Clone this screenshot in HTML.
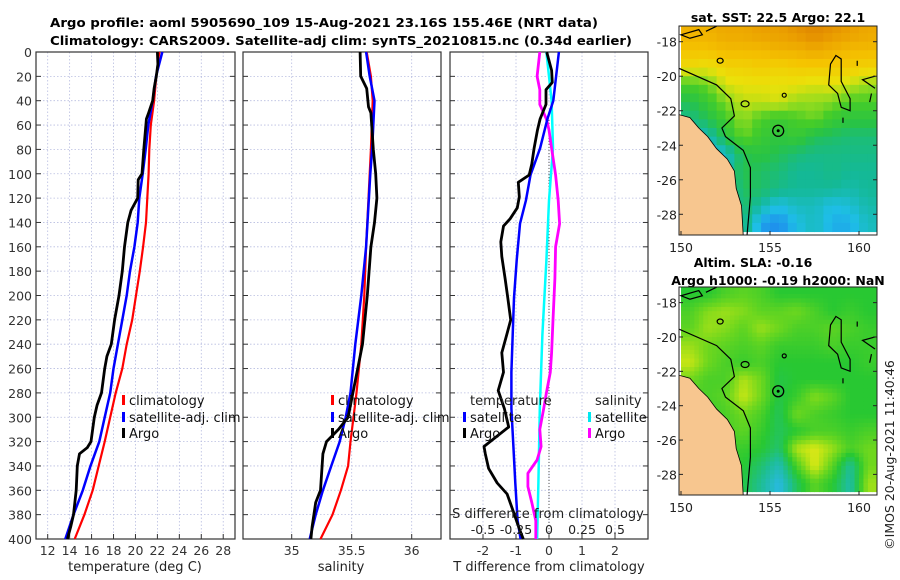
<!DOCTYPE html>
<html><head><meta charset="utf-8"><style>
html,body{margin:0;padding:0;background:#fff;}
svg{display:block;font-family:"DejaVu Sans","Liberation Sans",sans-serif;}
</style></head><body>
<svg id="fig" width="900" height="580" viewBox="0 0 900 580" xmlns="http://www.w3.org/2000/svg">
<text x="50" y="27" font-size="12.5" font-weight="bold" textLength="548" lengthAdjust="spacingAndGlyphs">Argo profile: aoml 5905690_109 15-Aug-2021 23.16S 155.46E (NRT data)</text>
<text x="50" y="45" font-size="12.5" font-weight="bold" textLength="582" lengthAdjust="spacingAndGlyphs">Climatology: CARS2009. Satellite-adj clim: synTS_20210815.nc (0.34d earlier)</text>
<text x="778" y="22" font-size="12.5" font-weight="bold" text-anchor="middle">sat. SST: 22.5 Argo: 22.1</text>
<text x="753" y="267" font-size="12.5" font-weight="bold" text-anchor="middle">Altim. SLA: -0.16</text>
<text x="778" y="285" font-size="12.5" font-weight="bold" text-anchor="middle">Argo h1000: -0.19 h2000: NaN</text>
<text transform="translate(894,455) rotate(-90)" font-size="12.5" text-anchor="middle" fill="#222">©IMOS 20-Aug-2021 11:40:46</text>
<g id="layer"></g>
</svg>
<script>
// ---------- data ----------
const depthTicks = [0,20,40,60,80,100,120,140,160,180,200,220,240,260,280,300,320,340,360,380,400];
const tempTicks = [12,14,16,18,20,22,24,26,28];
const salTicks = [35,35.5,36];
const tdiffTicks = [-2,-1,0,1,2];
const sdiffTickLabels = ["-0.5","-0.25","0","0.25","0.5"];
const sdiffTickValues = [-0.5,-0.25,0,0.25,0.5];

const climTDepth = [0,20,40,60,80,100,120,140,160,180,200,220,240,260,280,300,320,340,360,380,400];
const climTemp = [22.17,21.9,21.7,21.4,21.26,21.2,21.08,20.96,20.7,20.4,20.05,19.7,19.2,18.8,18.2,17.7,17.2,16.65,16.1,15.35,14.46];
const satTDepth = [0,20,40,60,80,100,120,140,160,180,200,220,240,260,280,300,320,340,360,380,400];
const satTemp = [22.45,21.87,21.57,21.17,20.93,20.66,20.35,20.2,19.9,19.5,19.2,18.8,18.4,18.0,17.7,17.2,16.7,15.9,15.2,14.35,13.6];
const argoTDepth = [0,10,20,30,40,50,55,60,80,100,105,120,130,140,160,180,200,220,240,250,260,280,290,300,320,325,330,340,360,380,390,400];
const argoTemp = [22.0,22.05,21.9,21.7,21.57,21.2,21.0,20.95,20.76,20.6,20.25,20.2,19.6,19.3,19.0,18.8,18.5,18.1,17.8,17.4,17.2,16.9,16.5,16.25,15.95,15.6,14.9,14.7,14.6,14.35,14.1,13.8];

const climSDepth = [0,20,40,80,100,160,200,240,280,320,340,360,380,400];
const climSal = [35.625,35.66,35.675,35.66,35.65,35.62,35.605,35.58,35.54,35.49,35.47,35.41,35.34,35.24];
const satSDepth = [0,20,40,60,80,100,160,200,240,280,300,320,340,360,380,400];
const satSal = [35.62,35.65,35.69,35.68,35.67,35.655,35.62,35.58,35.53,35.49,35.45,35.40,35.33,35.26,35.20,35.15];
const argoSDepth = [0,20,25,30,45,50,80,100,120,140,160,200,220,240,260,280,300,310,320,330,360,370,390,400];
const argoSal = [35.57,35.575,35.6,35.625,35.64,35.66,35.68,35.70,35.71,35.69,35.66,35.63,35.61,35.59,35.55,35.51,35.47,35.39,35.29,35.26,35.24,35.20,35.17,35.16];

const satTdDepth = [0,40,55,79,101,122,141,171,202,232,263,293,324,354,385,400];
const satTdiff = [0.30,0.13,-0.05,-0.27,-0.56,-0.7,-0.88,-0.98,-1.06,-1.1,-1.14,-1.14,-1.08,-1.02,-0.95,-0.86];
const argoTdDepth = [0,15,25,31,43,55,64,79,92,101,107,119,128,137,143,156,168,186,202,220,232,247,263,278,293,308,324,330,342,354,363,379,391,400];
const argoTdiff = [-0.07,0.08,0.1,-0.09,-0.09,-0.27,-0.35,-0.45,-0.52,-0.6,-0.93,-0.9,-0.96,-1.18,-1.38,-1.46,-1.43,-1.33,-1.25,-1.16,-1.28,-1.43,-1.38,-1.54,-1.35,-1.22,-1.97,-1.93,-1.83,-1.57,-1.27,-1.06,-0.91,-0.78];
const satSdDepth = [0,40,79,122,171,232,293,354,400];
const satSdiff = [-0.02,0.02,0.03,0,-0.02,-0.05,-0.07,-0.08,-0.09];
const argoSdDepth = [0,20,31,43,55,64,79,101,122,141,160,186,220,247,263,280,293,310,324,335,346,357,370,385,400];
const argoSdiff = [-0.07,-0.09,-0.07,-0.07,-0.02,0,0.02,0.05,0.07,0.08,0.05,0.045,0.03,0.02,0.01,-0.02,-0.04,-0.07,-0.06,-0.09,-0.16,-0.16,-0.13,-0.1,-0.1];

const mapLonTicks = [150,155,160];
const mapLatTicks = [-18,-20,-22,-24,-26,-28];
const gridLons = [150.5,151.5,152.5,153.5,154.5,155.5,156.5,157.5,158.5,159.5,160.5];
const gridLats = [-17.5,-18.5,-19.5,-20.5,-21.5,-22.5,-23.5,-24.5,-25.5,-26.5,-27.5,-28.5];
const sstGrid = [
[23.6,23.6,23.7,23.7,23.8,23.8,23.9,24.0,23.9,23.8,23.7],
[23.4,23.4,23.5,23.5,23.5,23.6,23.6,23.7,23.6,23.5,23.5],
[23.1,23.0,23.2,23.2,23.3,23.2,23.3,23.3,23.3,23.3,23.2],
[22.2,22.4,22.9,23.0,23.0,23.0,23.0,22.9,23.0,22.8,22.6],
[21.6,22.0,22.5,22.8,22.8,22.9,22.6,22.6,22.5,22.2,22.2],
[21.3,21.6,22.1,22.6,22.2,22.0,22.2,22.4,22.0,21.8,21.8],
[21.0,21.0,21.7,22.4,22.0,21.8,22.0,21.6,21.5,21.4,21.4],
[20.8,20.8,20.9,21.6,21.8,21.6,21.4,21.3,21.3,21.3,21.3],
[20.8,20.8,21.0,21.7,21.5,21.4,21.2,21.2,21.3,21.2,21.2],
[20.8,20.8,20.8,21.6,21.5,21.3,21.2,21.2,21.2,21.1,21.2],
[20.8,20.8,20.8,21.5,21.1,20.8,21.0,21.0,20.8,20.9,21.1],
[20.8,20.8,20.8,21.4,20.6,20.5,20.8,21.0,20.7,20.7,21.0]];
const slaGrid = [
[0,0,0.02,0.03,0.02,0,0,0,0,0,0],
[0.02,0.05,0.06,0.05,0.03,0.03,0.04,0.02,0,0.01,0],
[0.03,0.06,0.05,0.03,0.06,0.04,0.02,0.02,0.03,0.02,0.01],
[0.06,0.04,0.03,0.02,0.03,0.01,0.01,0.01,0.02,0.01,0.01],
[0.08,0.04,0.02,0.01,0.02,0,0,0,0,0,0.01],
[0.04,0.02,0.02,0.07,0.04,-0.01,0,0,0,0,0],
[0.02,0.02,0.03,0.08,0.04,-0.01,0.01,0.05,0.03,0,0],
[0,0.01,0.02,0.04,0.02,-0.02,0.04,0.02,0.01,0,0],
[0,0,0.02,0.03,0.01,-0.02,0,0.02,0.02,0.01,0.02],
[0,0,0.01,0.01,0,-0.03,0.07,0.09,0.06,0.02,0.04],
[0,0,0,0,-0.03,-0.07,0.02,0.09,0.03,-0.05,0.04],
[0,0,0,-0.01,-0.05,-0.1,-0.02,0.03,0,-0.06,0.06]];
const landLon = [149.8,150.5,151,151.5,152,152.6,153,153.1,153.4,153.5,149.8];
const landLat = [-22.2,-22.4,-23,-23.5,-24.2,-24.8,-25.5,-26.5,-27.5,-29.3,-29.3];
const shelfLon = [149.8,152,152.8,153,152.3,152.5,153.5,153.9,153.9,153.7];
const shelfLat = [-19.5,-20.5,-21.3,-22.3,-23.0,-23.5,-24.3,-25.3,-27,-29.3];
const reefLon = [158.4,158.7,159.0,159.0,159.5,159.5,159.0,158.8,158.3,158.4];
const reefLat = [-19.3,-18.8,-19.0,-20.3,-21.3,-22.0,-21.8,-21.0,-20.5,-19.3];
const argoLon = 155.46, argoLat = -23.16;

// ---------- helpers ----------
const NS = "http://www.w3.org/2000/svg";
const layer = document.getElementById('layer');
function mk(tag, attrs, parent){ const e=document.createElementNS(NS,tag); for(const k in attrs) e.setAttribute(k,attrs[k]); (parent||layer).appendChild(e); return e; }
function yD(d){ return 52 + d*1.2175; }
function lerp(a,b,t){return a+(b-a)*t;}
function rgb(a){ return 'rgb('+Math.round(a[0])+','+Math.round(a[1])+','+Math.round(a[2])+')'; }
function cmap(stops, v){
  if(v<=stops[0][0]) return rgb(stops[0][1]);
  for(let i=1;i<stops.length;i++){ if(v<=stops[i][0]){ const t=(v-stops[i-1][0])/(stops[i][0]-stops[i-1][0]); const a=stops[i-1][1], b=stops[i][1]; return rgb([lerp(a[0],b[0],t),lerp(a[1],b[1],t),lerp(a[2],b[2],t)]); } }
  return rgb(stops[stops.length-1][1]);
}

function panel(name, x0, x1, xs, xTicks, xLabels, showY){
  const g = mk('g',{});
  
  
  xTicks.forEach((t,i)=>{ const X=xs(t);
    const gl=mk('line',{x1:X,x2:X,y1:52,y2:539,stroke:'#b8bde0','stroke-width':0.8,'stroke-dasharray':'1.5,2'},g);
     
    mk('line',{x1:X,x2:X,y1:539,y2:534,stroke:'#333'},g);
    if(xLabels){ const tl=mk('text',{x:X,y:555,'font-size':12.5,'text-anchor':'middle',fill:'#333'},g); tl.textContent=xLabels[i];
        }
  });
  depthTicks.forEach(d=>{ const Y=yD(d);
    const gl=mk('line',{x1:x0,x2:x1,y1:Y,y2:Y,stroke:'#b8bde0','stroke-width':0.8,'stroke-dasharray':'1.5,2'},g);
     
    mk('line',{x1:x0,x2:x0+5,y1:Y,y2:Y,stroke:'#333'},g);
    mk('line',{x1:x1-5,x2:x1,y1:Y,y2:Y,stroke:'#333'},g);
    if(showY){ const tl=mk('text',{x:32,y:Y+5,'font-size':12.5,'text-anchor':'end',fill:'#333'},g); tl.textContent=d;
        }
  });
  const fr=mk('rect',{x:x0,y:52,width:x1-x0,height:487,fill:'none',stroke:'#333','stroke-width':1.2},g);
   
  return g;
}
function series(g, name, xs, vals, depths, color, w){
  const pts = vals.map((v,i)=>xs(v).toFixed(1)+','+yD(depths[i]).toFixed(1)).join(' ');
  const p = mk('polyline',{points:pts,fill:'none',stroke:color,'stroke-width':w,'stroke-linejoin':'round'},g);
  
  
}
function legend(g, x, y, color, label, name){
  const m=mk('rect',{x:x-7,y:y-10,width:3,height:10,fill:color},g);
   
  const t=mk('text',{x:x,y:y,'font-size':13,fill:'#111'},g); t.textContent=label;
   
}
function txt(g,x,y,s,name,anchor,size){ const t=mk('text',{x:x,y:y,'font-size':size||13,'text-anchor':anchor||'start',fill:'#222'},g); t.textContent=s;
    return t; }

// ---------- panel 1 ----------
const xT = T => 47.7 + (T-12)*10.97;
const p1 = panel('temperature-panel',36,235,xT,tempTicks,tempTicks.map(String),true);
series(p1,'climatology-temp-line',xT,climTemp,climTDepth,'#ff0000',2.2);
series(p1,'satellite-temp-line',xT,satTemp,satTDepth,'#0000ff',2.5);
series(p1,'argo-temp-line',xT,argoTemp,argoTDepth,'#000',2.8);
legend(p1,129,405,'#ff0000','climatology','legend-climatology');
legend(p1,129,422,'#0000ff','satellite-adj. clim','legend-satellite');
legend(p1,129,438,'#000','Argo','legend-argo');
txt(p1,135,571,'temperature (deg C)','temperature-axis-title','middle');

// ---------- panel 2 ----------
const xS = S => 291.7 + (S-35)*120;
const p2 = panel('salinity-panel',243,441,xS,salTicks,salTicks.map(String),false);
series(p2,'climatology-sal-line',xS,climSal,climSDepth,'#ff0000',2.2);
series(p2,'satellite-sal-line',xS,satSal,satSDepth,'#0000ff',2.5);
series(p2,'argo-sal-line',xS,argoSal,argoSDepth,'#000',2.8);
legend(p2,338,405,'#ff0000','climatology','legend-climatology');
legend(p2,338,422,'#0000ff','satellite-adj. clim','legend-satellite');
legend(p2,338,438,'#000','Argo','legend-argo');
txt(p2,341,571,'salinity','salinity-axis-title','middle');

// ---------- panel 3 ----------
const xTd = d => 549 + d*33;
const xSd = d => 549 + d*132;
const p3 = panel('difference-panel',450,648,xTd,tdiffTicks,tdiffTicks.map(String),false);
const zl = mk('line',{x1:xTd(0),x2:xTd(0),y1:120,y2:539,stroke:'#555','stroke-width':1,'stroke-dasharray':'1,2'},p3);
 
series(p3,'satellite-sdiff-line',xSd,satSdiff,satSdDepth,'#00ffff',2.5);
series(p3,'argo-sdiff-line',xSd,argoSdiff,argoSdDepth,'#ff00ff',2.8);
series(p3,'satellite-tdiff-line',xTd,satTdiff,satTdDepth,'#0000ff',2.5);
series(p3,'argo-tdiff-line',xTd,argoTdiff,argoTdDepth,'#000',2.8);
txt(p3,470,405,'temperature','legend-temperature-heading');
legend(p3,470,422,'#0000ff','satellite','legend-temp-satellite');
legend(p3,470,438,'#000','Argo','legend-temp-argo');
txt(p3,595,405,'salinity','legend-salinity-heading');
legend(p3,595,422,'#00e8f0','satellite','legend-sal-satellite');
legend(p3,595,438,'#ff00ff','Argo','legend-sal-argo');
txt(p3,548,518,'S difference from climatology','s-diff-axis-title','middle');
sdiffTickValues.forEach((v,i)=>{ txt(p3,xSd(v),534,sdiffTickLabels[i],'s-diff-tick-label','middle',12.5); });
txt(p3,549,571,'T difference from climatology','t-diff-axis-title','middle');

// ---------- maps ----------
const sstStops = [[20.3,[30,110,240]],[20.8,[30,190,230]],[21.2,[20,185,150]],[21.7,[40,195,70]],[22.2,[70,205,40]],[22.6,[150,220,30]],[23.0,[235,225,10]],[23.4,[245,195,0]],[23.8,[235,160,0]],[24.1,[220,125,0]]];
const slaStops = [[-0.1,[40,185,225]],[-0.05,[30,190,150]],[0,[40,200,50]],[0.04,[110,215,30]],[0.08,[200,230,20]],[0.1,[240,230,30]]];
function sample(grid, fr, fc){
  const R=grid.length, C=grid[0].length;
  const r0=Math.max(0,Math.min(R-1,Math.floor(fr))), c0=Math.max(0,Math.min(C-1,Math.floor(fc)));
  const r1=Math.min(R-1,r0+1), c1=Math.min(C-1,c0+1);
  const tr=Math.max(0,Math.min(1,fr-r0)), tc=Math.max(0,Math.min(1,fc-c0));
  return lerp(lerp(grid[r0][c0],grid[r0][c1],tc),lerp(grid[r1][c0],grid[r1][c1],tc),tr);
}
function drawMap(name, top, bottom, grid, stops, clipId, sub){
  const left=679, right=877;
  const lx = lon => 681 + (lon-150)*17.8;
  const ly = lat => top + (lat - (-17.09))*(-(bottom-top)/12.11);
  const g = mk('g',{});
  
  
  const cp = mk('clipPath',{id:clipId},g); mk('rect',{x:left,y:top,width:right-left,height:bottom-top},cp);
  const inner = mk('g',{'clip-path':'url(#'+clipId+')'},g);
  grid.forEach((row,r)=>row.forEach((v,c)=>{
    for(let i=0;i<sub;i++) for(let j=0;j<sub;j++){
      const fr = r + (i+0.5)/sub - 0.5, fc = c + (j+0.5)/sub - 0.5;
      const val = sub>1 ? sample(grid, fr, fc) : v;
      const lonL = gridLons[c]-0.5 + j/sub, latT = gridLats[r]+0.5 - i/sub;
      const cell = mk('rect',{x:lx(lonL).toFixed(2),y:ly(latT).toFixed(2),width:(17.8/sub+0.5).toFixed(2),height:(17.3/sub+0.5).toFixed(2),fill:cmap(stops,val)},inner);
      
      
    }
  }));
  const land = mk('polygon',{points:landLon.map((v,i)=>lx(v).toFixed(1)+','+ly(landLat[i]).toFixed(1)).join(' '),fill:'#f7c68f',stroke:'#000','stroke-width':0.8},inner);
   
  const shelf = mk('polyline',{points:shelfLon.map((v,i)=>lx(v).toFixed(1)+','+ly(shelfLat[i]).toFixed(1)).join(' '),fill:'none',stroke:'#000','stroke-width':1.2},inner);
   
  const reef = mk('polygon',{points:reefLon.map((v,i)=>lx(v).toFixed(1)+','+ly(reefLat[i]).toFixed(1)).join(' '),fill:'none',stroke:'#000','stroke-width':1.2},inner);
   
  mk('ellipse',{cx:lx(152.2),cy:ly(-19.1),rx:3,ry:2.5,fill:'none',stroke:'#000','stroke-width':1.2},inner);
  mk('ellipse',{cx:lx(155.8),cy:ly(-21.1),rx:2,ry:2,fill:'none',stroke:'#000','stroke-width':1.2},inner);
  mk('ellipse',{cx:lx(153.6),cy:ly(-21.6),rx:4,ry:3,fill:'none',stroke:'#000','stroke-width':1.2},inner);
  mk('path',{d:'M'+lx(150)+','+ly(-17.6)+' L'+lx(151)+','+ly(-17.3)+' L'+lx(151.2)+','+ly(-17.6)+' L'+lx(150.5)+','+ly(-17.8)+' Z',fill:'none',stroke:'#000','stroke-width':1.2},inner);
  mk('path',{d:'M'+lx(151.4)+','+ly(-17.4)+' L'+lx(152.0)+','+ly(-17.1)+' M'+lx(160.9)+','+ly(-20.0)+' L'+lx(160.2)+','+ly(-20.2)+' L'+lx(160.9)+','+ly(-20.7)+' M'+lx(160.7)+','+ly(-21.0)+' L'+lx(160.6)+','+ly(-21.5)+' M'+lx(159.9)+','+ly(-19.1)+' L'+lx(159.9)+','+ly(-19.4)+' M'+lx(159.1)+','+ly(-22.4)+' L'+lx(159.1)+','+ly(-22.7),fill:'none',stroke:'#000','stroke-width':1.2},inner);
  const am = mk('circle',{cx:lx(argoLon),cy:ly(argoLat),r:5.5,fill:'none',stroke:'#000','stroke-width':1.3},inner);
   
  mk('circle',{cx:lx(argoLon),cy:ly(argoLat),r:1.5,fill:'#000'},inner);
  const fr = mk('rect',{x:left,y:top,width:right-left,height:bottom-top,fill:'none',stroke:'#222','stroke-width':1},g);
   
  mapLatTicks.forEach(t=>{ const Y=ly(t);
    mk('line',{x1:left,x2:left+4,y1:Y,y2:Y,stroke:'#222'},g); mk('line',{x1:right-4,x2:right,y1:Y,y2:Y,stroke:'#222'},g);
    txt(g,677,Y+5,String(t),'lat-tick-label','end',12.5); });
  mapLonTicks.forEach(t=>{ const X=lx(t);
    mk('line',{x1:X,x2:X,y1:bottom,y2:bottom-4,stroke:'#222'},g);
    txt(g,X,bottom+17,String(t),'lon-tick-label','middle',12.5); });
}
drawMap('sst-map',26,235,sstGrid,sstStops,'clipSst',2);
drawMap('sla-map',287,495,slaGrid,slaStops,'clipSla',4);
</script>
</body></html>
